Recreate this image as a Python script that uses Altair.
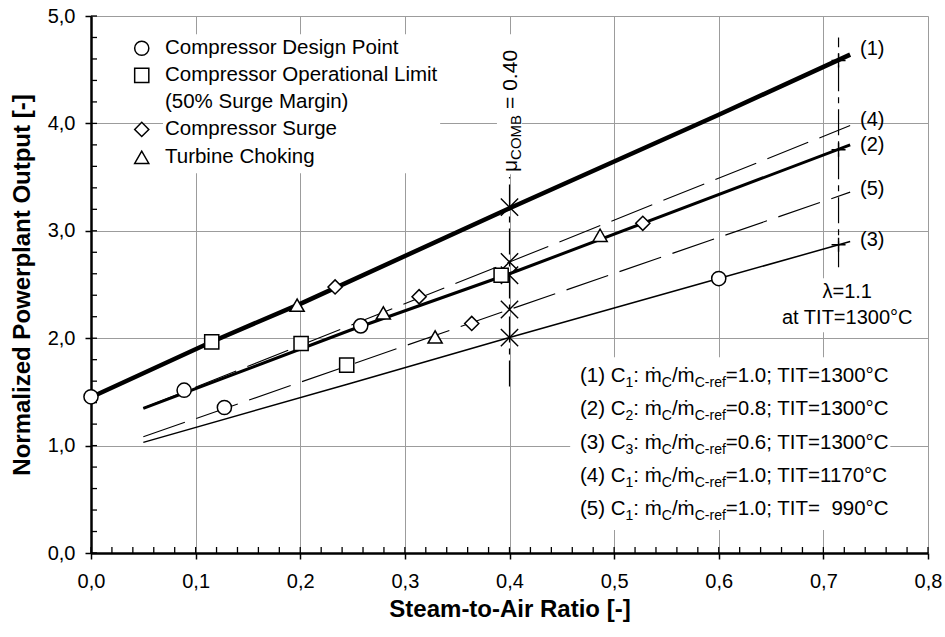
import altair as alt
import pandas as pd

# ---------------- data ----------------
X_TICKS = [0.0, 0.1, 0.2, 0.3, 0.4, 0.5, 0.6, 0.7, 0.8]
Y_TICKS = [0.0, 1.0, 2.0, 3.0, 4.0, 5.0]
X_MINOR = [round(i * 0.02, 2) for i in range(41)]
Y_MINOR = [round(i * 0.2, 1) for i in range(26)]

# curves (1)..(5)
C1_X = [0.0, 0.115, 0.2, 0.4, 0.6, 0.7256]
C1_Y = [1.45, 1.965, 2.32, 3.21, 4.08, 4.64]
C2_X = [0.05, 0.2476, 0.4, 0.7256]
C2_Y = [1.346, 2.074, 2.60, 3.80]
C3_X = [0.05, 0.2476, 0.4, 0.6, 0.7256]
C3_Y = [1.03, 1.579, 2.006, 2.555, 2.90]
C4_X = [0.05, 0.4, 0.7256]
C4_Y = [1.35, 2.71, 3.98]
C5_X = [0.05, 0.4, 0.7256]
C5_Y = [1.082, 2.267, 3.36]

# operating-point markers
CIRCLE_X = [0.0, 0.089, 0.1275, 0.2578, 0.6]
CIRCLE_Y = [1.454, 1.516, 1.355, 2.115, 2.555]
SQUARE_X = [0.1154, 0.2008, 0.2444, 0.392]
SQUARE_Y = [1.966, 1.951, 1.749, 2.586]
DIAMOND_X = [0.2333, 0.3136, 0.3639, 0.5274]
DIAMOND_Y = [2.477, 2.386, 2.137, 3.07]
TRIANGLE_X = [0.197, 0.2794, 0.3289, 0.4866]
TRIANGLE_Y = [2.307, 2.235, 2.012, 2.958]

MU_COMB = 0.40
X_MARK_Y = [3.22, 2.71, 2.586, 2.267, 2.006]
LAMBDA_X = 0.7145
PLUS_Y = [4.586, 3.755, 2.87]

CURVE_LABELS = ["(1)", "(4)", "(2)", "(5)", "(3)"]
CURVE_LABEL_Y = [4.69, 4.03, 3.80, 3.39, 2.91]

LEGEND_TEXT = ["Compressor Design Point", "Compressor Operational Limit",
               "(50% Surge Margin)", "Compressor Surge", "Turbine Choking"]
NOTE_IDX = ["(1)", "(2)", "(3)", "(4)", "(5)"]
NOTE_C = ["1", "2", "3", "1", "1"]
NOTE_RATIO = ["1.0", "0.8", "0.6", "1.0", "1.0"]
NOTE_TIT = ["1300", "1300", "1300", "1170", "\u00a0\u00a0990"]

# ---------------- layout helpers ----------------
W, H = 837, 537
PXX = W / 0.8      # px per x unit
PXY = H / 5.0      # px per y unit
FONT = "Liberation Sans"

xs = alt.Scale(domain=[0, 0.8], nice=False, zero=False)
ys = alt.Scale(domain=[0, 5], nice=False, zero=False)
LBL = "replace(format(datum.value, '.1f'), '.', ',')"
xaxis = alt.Axis(values=X_TICKS, labelExpr=LBL, title="Steam-to-Air Ratio [-]", grid=True,
                 gridColor="#9c9c9c", gridWidth=1, domainColor="black", domainWidth=2.5,
                 tickColor="black", tickWidth=1.5, tickSize=6, labelFontSize=20, labelFont=FONT,
                 labelColor="black", labelPadding=12, labelFlush=False, labelOverlap=False,
                 titleFontSize=24, titleFont=FONT, titleFontWeight="bold", titleColor="black",
                 titleX=W / 2, titleY=56, titleBaseline="middle")
yaxis = alt.Axis(values=Y_TICKS, labelExpr=LBL, title="Normalized Powerplant Output [-]", grid=True,
                 gridColor="#9c9c9c", gridWidth=1, domainColor="black", domainWidth=2.5,
                 tickColor="black", tickWidth=1.5, tickSize=6, labelFontSize=20, labelFont=FONT,
                 labelColor="black", labelPadding=10, labelFlush=False, labelOverlap=False,
                 titleFontSize=24, titleFont=FONT, titleFontWeight="bold", titleColor="black",
                 titleX=-69, titleY=H / 2, titleAngle=270, titleBaseline="middle")


def X(f="x"):
    return alt.X(f, type="quantitative", scale=xs, axis=xaxis)


def Y(f="y"):
    return alt.Y(f, type="quantitative", scale=ys, axis=yaxis)


CW = {' ': 278, '\u00a0': 278, '(': 333, ')': 333, ':': 278, ';': 278, '/': 278, '=': 584, '.': 278,
      ',': 278, '-': 333, '\u00b0': 400, 'C': 722, 'T': 611, 'I': 278, 'r': 333, 'e': 556, 'f': 278,
      'm': 833, '\u1e41': 833, '\u03bc': 576, 'O': 778, 'M': 833, 'B': 667}


def tw(s, fs):
    return sum(CW.get(c, 556) for c in s) * fs / 1000.0


layers = []

# inward minor/major ticks
layers.append(alt.Chart(pd.DataFrame({"x": X_MINOR})).mark_rule(color="black", strokeWidth=1.3).encode(
    x=X(), y=alt.value(H), y2=alt.value(H - 6)))
layers.append(alt.Chart(pd.DataFrame({"y": Y_MINOR})).mark_rule(color="black", strokeWidth=1.3).encode(
    y=Y(), x=alt.value(0), x2=alt.value(6)))

# vertical dash-dot reference lines
vl = pd.DataFrame({"x": [MU_COMB, LAMBDA_X], "y": [1.55, 2.66], "y2": [3.5, 4.8]})
layers.append(alt.Chart(vl).mark_rule(color="black", strokeWidth=1.2, strokeDash=[26, 6, 6, 6]).encode(
    x=X(), y=Y(), y2="y2"))

# white boxes behind annotation texts (interrupt grid)
boxes = pd.DataFrame({"x": [0.0688, 0.388, 0.6587, 0.458],
                      "x2": [0.3337, 0.412, 0.7878, 0.764],
                      "y": [4.83, 4.83, 2.558, 1.823],
                      "y2": [3.535, 3.526, 2.056, 0.214]})
layers.append(alt.Chart(boxes).mark_rect(fill="white").encode(x=X(), x2="x2", y=Y(), y2="y2"))

# curves
curve_styles = [
    (C1_X, C1_Y, 4.5, None), (C2_X, C2_Y, 3.0, None), (C3_X, C3_Y, 1.5, None),
    (C4_X, C4_Y, 1.1, [44, 12]), (C5_X, C5_Y, 1.1, [44, 12]),
]
for cx, cy, sw, dash in curve_styles:
    kw = dict(color="black", strokeWidth=sw, strokeCap="butt")
    if dash:
        kw["strokeDash"] = dash
    layers.append(alt.Chart(pd.DataFrame({"x": cx, "y": cy})).mark_line(**kw).encode(x=X(), y=Y()))

# cross marks at mu = 0.40 and plus marks at lambda = 1.1
layers.append(alt.Chart(pd.DataFrame({"x": [MU_COMB] * len(X_MARK_Y), "y": X_MARK_Y})).mark_point(
    shape="M-1,-1L1,1M-1,1L1,-1", size=300, stroke="black", strokeWidth=1.4, filled=False, opacity=1
).encode(x=X(), y=Y()))
layers.append(alt.Chart(pd.DataFrame({"x": [LAMBDA_X] * len(PLUS_Y), "y": PLUS_Y})).mark_point(
    shape="M-1,0L1,0M0,-1L0,1", size=196, stroke="black", strokeWidth=1.4, filled=False, opacity=1
).encode(x=X(), y=Y()))

# operating-point markers + legend symbols
LEG_SX = 0.0485
LEG_ROWS = [4.70, 4.447, 4.195, 3.944, 3.684]
marker_sets = [
    ("circle", CIRCLE_X, CIRCLE_Y, LEG_ROWS[0]),
    ("square", SQUARE_X, SQUARE_Y, LEG_ROWS[1]),
    ("diamond", DIAMOND_X, DIAMOND_Y, LEG_ROWS[3]),
    ("triangle-up", TRIANGLE_X, TRIANGLE_Y, LEG_ROWS[4]),
]
for shp, mx, my, ly in marker_sets:
    df = pd.DataFrame({"x": list(mx) + [LEG_SX], "y": list(my) + [ly]})
    layers.append(alt.Chart(df).mark_point(shape=shp, size=200, fill="white", stroke="black",
                                           strokeWidth=1.5, filled=True, opacity=1).encode(x=X(), y=Y()))

# legend texts
layers.append(alt.Chart(pd.DataFrame({"x": [0.0707] * 5, "y": LEG_ROWS, "t": LEGEND_TEXT})).mark_text(
    align="left", baseline="middle", font=FONT, fontSize=20.5, color="black").encode(x=X(), y=Y(), text="t:N"))

# curve labels
layers.append(alt.Chart(pd.DataFrame({"x": [0.735] * 5, "y": CURVE_LABEL_Y, "t": CURVE_LABELS})).mark_text(
    align="left", baseline="middle", font=FONT, fontSize=20, color="black").encode(x=X(), y=Y(), text="t:N"))

# lambda note
layers.append(alt.Chart(pd.DataFrame({"x": [0.7228, 0.7228], "y": [2.428, 2.186],
                                      "t": ["\u03bb=1.1", "at TIT=1300\u00b0C"]})).mark_text(
    align="center", baseline="middle", font=FONT, fontSize=20, color="black").encode(x=X(), y=Y(), text="t:N"))

# bottom-right notes with subscripts
MAIN, SUB, SUBDY = 20.5, 14, 5
rows = []
note_base = [1.591, 1.284, 0.967, 0.660, 0.353]
x0 = (580 - 91) / PXX
for i in range(5):
    parts = [(NOTE_IDX[i] + " C", False), (NOTE_C[i], True), (": \u1e41", False), ("C", True),
             ("/\u1e41", False), ("C-ref", True),
             ("=" + NOTE_RATIO[i] + "; TIT=" + NOTE_TIT[i] + "\u00b0C", False)]
    off = 0.0
    for txt, sub in parts:
        fs = SUB if sub else MAIN
        rows.append({"x": x0 + off / PXX, "y": note_base[i] - (SUBDY / PXY if sub else 0), "t": txt, "fs": fs})
        off += tw(txt, fs)
layers.append(alt.Chart(pd.DataFrame(rows)).mark_text(
    align="left", baseline="alphabetic", font=FONT, color="black").encode(
    x=X(), y=Y(), text="t:N", size=alt.Size("fs:Q", scale=None, legend=None)))

# rotated mu label
MU_MAIN, MU_SUB = 21, 15
mu_rows = []
off = 0.0
ybase = (553 - 172) / PXY
xb = MU_COMB + 7 / PXX
for txt, sub in [("\u03bc", False), ("COMB", True), ("=\u00a00.40", False)]:
    fs = MU_SUB if sub else MU_MAIN
    if txt.startswith("="):
        off += 6
    mu_rows.append({"x": xb + (4 / PXX if sub else 0), "y": ybase + off / PXY, "t": txt, "fs": fs})
    off += tw(txt, fs)
layers.append(alt.Chart(pd.DataFrame(mu_rows)).mark_text(
    align="left", baseline="alphabetic", font=FONT, color="black", angle=270).encode(
    x=X(), y=Y(), text="t:N", size=alt.Size("fs:Q", scale=None, legend=None)))

chart = alt.layer(*layers).properties(
    width=W, height=H,
    padding={"left": 91, "top": 16, "right": 17, "bottom": 84},
    autosize=alt.AutoSizeParams(type="none"),
).configure_view(stroke="black", strokeWidth=2).configure(background="white")

chart.save("out.html", embed_options={"renderer": "svg", "actions": False})
